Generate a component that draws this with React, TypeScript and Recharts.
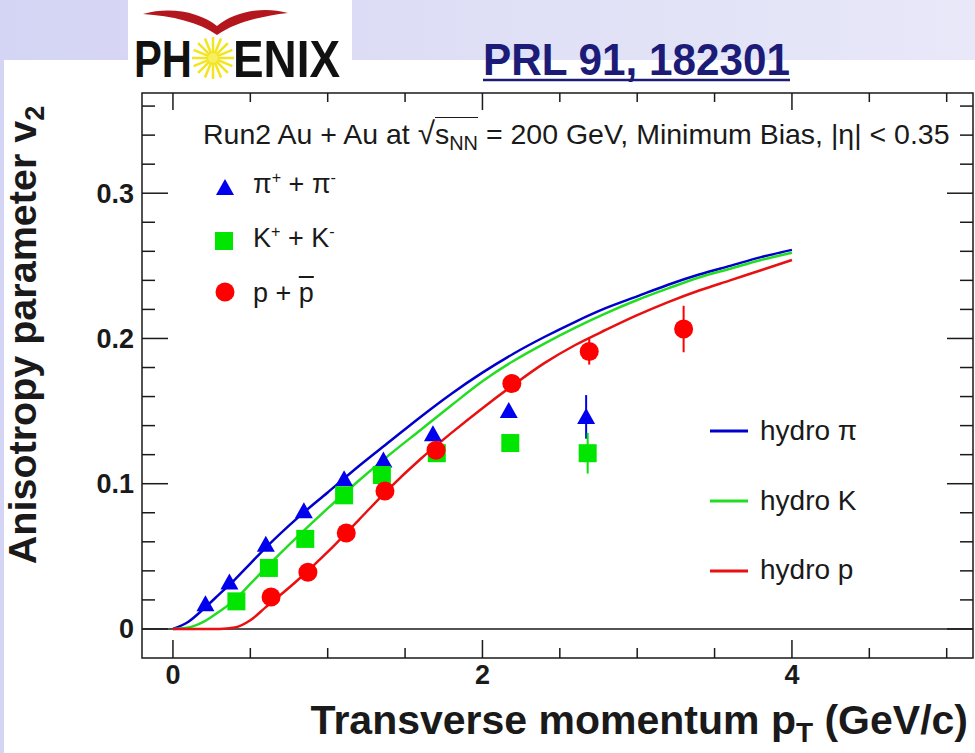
import React from 'react';
import { ComposedChart, Line, Scatter, XAxis, YAxis, ErrorBar, ReferenceLine, ReferenceArea } from 'recharts';

// hydro calculations, v2 vs pT (GeV/c)
const hydroPt = [0, 0.1, 0.2, 0.3, 0.4, 0.5, 0.6, 0.8, 1.0, 1.2, 1.4, 1.6, 1.8, 2.0, 2.2, 2.4, 2.6, 2.8, 3.0, 3.2, 3.4, 3.6, 3.8, 4.0];
const hydroPion = [0, 0.005, 0.014, 0.024, 0.034, 0.045, 0.056, 0.076, 0.094, 0.112, 0.129, 0.146, 0.162, 0.1765, 0.1895, 0.201, 0.2115, 0.221, 0.229, 0.237, 0.244, 0.25, 0.256, 0.261];
const hydroKaon = [0, 0.001, 0.005, 0.012, 0.02, 0.031, 0.042, 0.063, 0.083, 0.102, 0.12, 0.137, 0.154, 0.1705, 0.1845, 0.1965, 0.2075, 0.2175, 0.2265, 0.2345, 0.242, 0.248, 0.254, 0.259];
const hydroProton = [0, 0, 0, 0, 0.001, 0.006, 0.015, 0.033, 0.053, 0.075, 0.097, 0.117, 0.135, 0.152, 0.168, 0.183, 0.1955, 0.206, 0.216, 0.225, 0.233, 0.24, 0.247, 0.254];

// PHENIX data points
const pionPt = [0.21, 0.365, 0.6, 0.846, 1.106, 1.36, 1.68, 2.17, 2.67];
const pionV2 = [0.017, 0.032, 0.058, 0.081, 0.103, 0.116, 0.134, 0.15, 0.146];
const pionErr = [0, 0, 0, 0, 0, 0, 0, 0.002, 0.015];

const kaonPt = [0.41, 0.62, 0.855, 1.106, 1.35, 1.705, 2.18, 2.68];
const kaonV2 = [0.019, 0.042, 0.062, 0.092, 0.106, 0.121, 0.128, 0.121];
const kaonErr = [0, 0, 0, 0, 0, 0, 0.002, 0.014];

const protonPt = [0.634, 0.872, 1.12, 1.37, 1.7, 2.19, 2.69, 3.3];
const protonV2 = [0.022, 0.039, 0.066, 0.095, 0.123, 0.169, 0.191, 0.2065];
const protonErr = [0, 0, 0, 0, 0, 0.002, 0.009, 0.016];

const xTicks = [0, 0.5, 1, 1.5, 2, 2.5, 3, 3.5, 4, 4.5, 5];
const xLabels = [0, 2, 4];
const yTicks = [0, 0.02, 0.04, 0.06, 0.08, 0.1, 0.12, 0.14, 0.16, 0.18, 0.2, 0.22, 0.24, 0.26, 0.28, 0.3, 0.32, 0.34, 0.36];
const yLabels = [0, 0.1, 0.2, 0.3];

const zip = (pt: number[], v2: number[], err?: number[]) =>
  pt.map((p, i) => ({ pt: p, v2: v2[i], err: err ? err[i] : 0 }));

const hydroPionData = zip(hydroPt, hydroPion);
const hydroKaonData = zip(hydroPt, hydroKaon);
const hydroProtonData = zip(hydroPt, hydroProton);
const pionData = zip(pionPt, pionV2, pionErr);
const kaonData = zip(kaonPt, kaonV2, kaonErr);
const protonData = zip(protonPt, protonV2, protonErr);

const W = 975;
const H = 753;
const PLOT = { left: 142, right: 973, top: 93, bottom: 658 };
const INK = '#1a1a1a';
const FONT = '"Liberation Sans", Arial, Helvetica, sans-serif';
const BLUE = '#0000ee';
const GREEN = '#00e600';
const RED = '#ff0000';

const XTick = (props: any) => {
  const { x, payload } = props;
  const major = xLabels.includes(payload.value);
  return (
    <g>
      <line x1={x} x2={x} y1={PLOT.bottom} y2={PLOT.bottom - (major ? 18 : 10)} stroke={INK} strokeWidth={1.5} />
      <line x1={x} x2={x} y1={PLOT.top} y2={PLOT.top + (major ? 17 : 9)} stroke={INK} strokeWidth={1.5} />
      {major && (
        <text x={x} y={684} textAnchor="middle" fontSize={27} fontWeight="bold" fontFamily={FONT} fill={INK}>
          {payload.value}
        </text>
      )}
    </g>
  );
};

const YTick = (props: any) => {
  const { y, payload } = props;
  const major = yLabels.includes(payload.value);
  const len = major ? 26 : 13;
  return (
    <g>
      <line x1={PLOT.left} x2={PLOT.left + len} y1={y} y2={y} stroke={INK} strokeWidth={1.5} />
      <line x1={PLOT.right} x2={PLOT.right - len} y1={y} y2={y} stroke={INK} strokeWidth={1.5} />
      {major && (
        <text x={134} y={y + 9.5} textAnchor="end" fontSize={27} fontWeight="bold" fontFamily={FONT} fill={INK}>
          {payload.value}
        </text>
      )}
    </g>
  );
};

const Tri = (p: any) => (
  <polygon points={`${p.cx},${p.cy - 9} ${p.cx - 9},${p.cy + 7} ${p.cx + 9},${p.cy + 7}`} fill={BLUE} />
);
const Sq = (p: any) => <rect x={p.cx - 9} y={p.cy - 9} width={18} height={18} fill={GREEN} />;
const Dot = (p: any) => <circle cx={p.cx} cy={p.cy} r={9.5} fill={RED} />;

const sub: React.CSSProperties = { fontSize: '0.7em', position: 'relative', top: '0.3em' };
const sup: React.CSSProperties = { fontSize: '0.6em', position: 'relative', top: '-0.65em' };

const textAt = (left: number, baseline: number, size: number): React.CSSProperties => ({
  position: 'absolute',
  left,
  top: baseline - 0.8465 * size,
  fontSize: size,
  lineHeight: 1,
  fontFamily: FONT,
  color: INK,
  whiteSpace: 'nowrap',
});

const sunSpokes = Array.from({ length: 16 }, (_, i) => (i * Math.PI) / 8);

export default function App() {
  return (
    <div
      style={{
        position: 'absolute',
        left: 0,
        top: 0,
        width: W,
        height: H,
        overflow: 'hidden',
        background: 'linear-gradient(90deg, #d4d4f4 0%, #dfdff6 50%, #e8e8f9 100%)',
      }}
    >
      <div style={{ position: 'absolute', left: 4, top: 60, right: 0, bottom: 0, background: '#fff' }} />

      {/* logo + reference */}
      <svg width={W} height={100} style={{ position: 'absolute', left: 0, top: 0 }}>
        <rect x={128} y={0} width={224} height={84} fill="#fff" />
        <path
          d="M143 14 C170 6, 200 12, 217 26 C234 12, 262 6, 288 13 C262 16, 236 22, 217 35 C199 22, 172 16, 143 14 Z"
          fill="#b3161c"
        />
        {sunSpokes.map((a, i) => (
          <line
            key={i}
            x1={213 + Math.cos(a) * 4}
            y1={58 + Math.sin(a) * 4}
            x2={213 + Math.cos(a) * 21}
            y2={58 + Math.sin(a) * 21}
            stroke="#f2e41e"
            strokeWidth={2.5}
          />
        ))}
        <circle cx={213} cy={58} r={5} fill="#f7ee60" />
        <text x={134} y={77} fontSize={52} fontWeight="bold" fontFamily={FONT} fill="#111" textLength={58} lengthAdjust="spacingAndGlyphs">
          PH
        </text>
        <text x={233} y={77} fontSize={52} fontWeight="bold" fontFamily={FONT} fill="#111" textLength={107} lengthAdjust="spacingAndGlyphs">
          ENIX
        </text>
        <text x={483} y={75} fontSize={44} fontWeight="bold" fontFamily={FONT} fill="#1c1c78" textLength={307} lengthAdjust="spacingAndGlyphs">
          PRL 91, 182301
        </text>
        <line x1={483} x2={790} y1={80} y2={80} stroke="#1c1c78" strokeWidth={2.5} />
      </svg>

      <div style={{ position: 'absolute', left: 0, top: 0 }}>
        <ComposedChart width={W} height={H} margin={{ top: PLOT.top, right: W - PLOT.right, bottom: 55, left: 0 }}>
          <XAxis
            type="number"
            dataKey="pt"
            domain={[-0.2, 5.17]}
            ticks={xTicks}
            interval={0}
            allowDataOverflow
            height={H - PLOT.bottom - 55}
            axisLine={false}
            tickLine={false}
            tick={XTick}
          />
          <YAxis
            type="number"
            dataKey="v2"
            domain={[-0.02, 0.369]}
            ticks={yTicks}
            interval={0}
            allowDataOverflow
            width={PLOT.left}
            axisLine={false}
            tickLine={false}
            tick={YTick}
          />
          <ReferenceArea x1={-0.2} x2={5.17} y1={-0.02} y2={0.369} fill="none" stroke={INK} strokeWidth={1.5} ifOverflow="visible" />
          <ReferenceLine y={0} stroke={INK} strokeWidth={1.5} />
          <Line data={hydroPionData} dataKey="v2" type="monotone" stroke="#0000cc" strokeWidth={2.5} dot={false} isAnimationActive={false} />
          <Line data={hydroKaonData} dataKey="v2" type="monotone" stroke="#22dd22" strokeWidth={2.5} dot={false} isAnimationActive={false} />
          <Line data={hydroProtonData} dataKey="v2" type="monotone" stroke="#e81010" strokeWidth={2.5} dot={false} isAnimationActive={false} />
          <Scatter data={pionData} dataKey="v2" shape={Tri} isAnimationActive={false}>
            <ErrorBar dataKey="err" direction="y" width={0} stroke={BLUE} strokeWidth={2} />
          </Scatter>
          <Scatter data={kaonData} dataKey="v2" shape={Sq} isAnimationActive={false}>
            <ErrorBar dataKey="err" direction="y" width={0} stroke={GREEN} strokeWidth={2} />
          </Scatter>
          <Scatter data={protonData} dataKey="v2" shape={Dot} isAnimationActive={false}>
            <ErrorBar dataKey="err" direction="y" width={0} stroke={RED} strokeWidth={2} />
          </Scatter>
        </ComposedChart>
      </div>

      {/* legend markers, axis titles */}
      <svg width={W} height={H} style={{ position: 'absolute', left: 0, top: 0, pointerEvents: 'none' }}>
        <polygon points="225,179 216,195 234,195" fill={BLUE} />
        <rect x={215} y={232} width={18} height={18} fill={GREEN} />
        <circle cx={225} cy={292} r={9.5} fill={RED} />
        <line x1={710} x2={748} y1={431} y2={431} stroke="#0000cc" strokeWidth={3} />
        <line x1={710} x2={748} y1={501} y2={501} stroke="#22dd22" strokeWidth={3} />
        <line x1={710} x2={748} y1={571} y2={571} stroke="#e81010" strokeWidth={3} />
        <text x={968} y={734} textAnchor="end" fontSize={41} fontWeight="bold" fontFamily={FONT} fill={INK}>
          Transverse momentum p
          <tspan fontSize={28} dy={8}>T</tspan>
          <tspan dy={-8}> (GeV/c)</tspan>
        </text>
        <text transform="translate(36,335) rotate(-90)" textAnchor="middle" fontSize={39.5} fontWeight="bold" fontFamily={FONT} fill={INK}>
          Anisotropy parameter v
          <tspan fontSize={27} dy={8}>2</tspan>
        </text>
      </svg>

      <div style={textAt(203, 142, 28.5)}>
        Run2 Au + Au at <span style={{ fontSize: '1.1em' }}>√</span>
        <span style={{ borderTop: `1.5px solid ${INK}` }}>s<span style={sub}>NN</span></span> = 200 GeV, Minimum Bias, |η| &lt; 0.35
      </div>
      <div style={textAt(253, 194, 27)}>
        π<span style={sup}>+</span> + π<span style={sup}>-</span>
      </div>
      <div style={textAt(253, 248, 27)}>
        K<span style={sup}>+</span> + K<span style={sup}>-</span>
      </div>
      <div style={textAt(253, 303, 27)}>
        p + <span style={{ textDecoration: 'overline' }}>p</span>
      </div>
      <div style={textAt(760, 441, 28)}>hydro π</div>
      <div style={textAt(760, 511, 28)}>hydro K</div>
      <div style={textAt(760, 580, 28)}>hydro p</div>
    </div>
  );
}
